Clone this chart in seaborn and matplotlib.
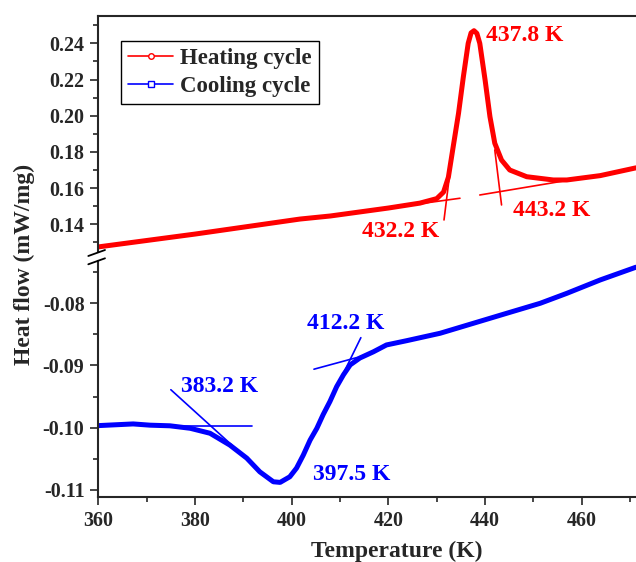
import matplotlib
matplotlib.use("Agg")
import matplotlib.pyplot as plt
from matplotlib.lines import Line2D
import seaborn as sns
import pandas as pd

# DSC heat flow
heat_T = [360, 380, 401.7, 408, 420, 426.5, 430, 431.4, 432.4, 433.4, 434.5, 435.5,
          436.5, 437.1, 437.7, 438.3, 438.9, 440, 441, 442, 443.4, 445.1, 448.6,
          454.1, 456.9, 463.8, 471.2]
heat_Q = [0.1275, 0.1346, 0.1429, 0.1446, 0.1490, 0.1517, 0.1542, 0.1578, 0.1660,
          0.1829, 0.2013, 0.2215, 0.2400, 0.2458, 0.2470, 0.2455, 0.2400, 0.2197,
          0.1995, 0.1848, 0.1755, 0.1700, 0.1663, 0.1645, 0.1645, 0.1669, 0.1712]

cool_T = [360, 367.2, 370.7, 374.8, 379, 383.1, 387.2, 390.7, 393.4, 396.2, 397.6,
          399.6, 401.0, 402.4, 403.8, 405.2, 406.5, 407.9, 409.3, 410.7, 412.1, 414.1,
          416.9, 419.6, 423.8, 430.7, 437.6, 444.5, 451.4, 456.9, 463.8, 471.2]
cool_Q = [-0.09967, -0.0994, -0.0996, -0.0997, -0.1001, -0.1009, -0.1028, -0.1049,
          -0.1071, -0.1087, -0.1088, -0.1079, -0.1065, -0.1044, -0.1020, -0.1001,
          -0.0979, -0.0958, -0.0934, -0.0915, -0.0899, -0.0888, -0.0878, -0.0867,
          -0.08601, -0.08482, -0.08321, -0.0816, -0.0800, -0.0784, -0.07625, -0.0742]

# tangent construction lines (x pairs, y pairs)
heat_tangents = [([425, 434.8], [0.1508, 0.1544]),
                 ([431.5, 432.5], [0.1424, 0.1640]),
                 ([438.9, 457.5], [0.1562, 0.1645]),
                 ([442.0, 443.4], [0.1811, 0.1507])]
cool_tangents = [([375, 391.8], [-0.0997, -0.0997]),
                 ([375.0, 387.9], [-0.0939, -0.1030]),
                 ([404.6, 415.5], [-0.0906, -0.0883]),
                 ([414.3, 410.7], [-0.08553, -0.09125])]

heat_labels = [("437.8 K", 440.1, 0.2443, "left"),
               ("432.2 K", 430.5, 0.1359, "right"),
               ("443.2 K", 445.7, 0.1475, "left")]
cool_labels = [("383.2 K", 377.2, -0.0934, "left"),
               ("412.2 K", 403.1, -0.0832, "left"),
               ("397.5 K", 404.5, -0.10746, "left")]

heat = pd.DataFrame({"T": heat_T, "Q": heat_Q})
cool = pd.DataFrame({"T": cool_T, "Q": cool_Q})

sns.set_style("ticks")
plt.rcParams["font.family"] = ["Liberation Serif", "DejaVu Serif"]
plt.rcParams["font.weight"] = "bold"

fig = plt.figure(figsize=(6.36, 5.62), dpi=100)
ax_top = fig.add_axes([0.1546, 0.5534, 0.8454, 0.4187])
ax_bot = fig.add_axes([0.1546, 0.1162, 0.8454, 0.4194])

sns.lineplot(data=heat, x="T", y="Q", ax=ax_top, color="#ff0000", lw=3.6, sort=False)
sns.lineplot(data=cool, x="T", y="Q", ax=ax_bot, color="#0000ff", lw=3.6, sort=False)

for xs, ys in heat_tangents:
    ax_top.plot(xs, ys, color="#ff0000", lw=1.2)
for xs, ys in cool_tangents:
    ax_bot.plot(xs, ys, color="#0000ff", lw=1.2)

for txt, x, y, ha in heat_labels:
    ax_top.text(x, y, txt, color="#ff0000", fontsize=17, fontweight="bold", ha=ha, va="center")
for txt, x, y, ha in cool_labels:
    ax_bot.text(x, y, txt, color="#0000ff", fontsize=17, fontweight="bold", ha=ha, va="center")

xmax = 360 + 537.7 / 4.835
for ax in (ax_top, ax_bot):
    ax.set_xlim(360, xmax)
    ax.set_xlabel("")
    ax.set_ylabel("")
    ax.spines["right"].set_visible(False)
    for s in ax.spines.values():
        s.set_linewidth(1.5)
    ax.tick_params(which="major", direction="out", length=6, width=1.2, labelsize=14.4, pad=4)
    ax.tick_params(which="minor", direction="out", length=3.5, width=1.2)

ax_top.set_ylim(0.12525, 0.2553)
ax_top.set_yticks([0.14, 0.16, 0.18, 0.20, 0.22, 0.24])
ax_top.set_yticks([0.13, 0.15, 0.17, 0.19, 0.21, 0.23, 0.25], minor=True)
ax_top.spines["bottom"].set_visible(False)
ax_top.tick_params(axis="x", which="both", bottom=False, labelbottom=False)

ax_bot.set_ylim(-0.1111, -0.0732)
ax_bot.set_yticks([-0.11, -0.10, -0.09, -0.08])
ax_bot.set_yticklabels(["-0.11", "-0.10", "-0.09", "-0.08"])
ax_bot.set_yticks([-0.105, -0.095, -0.085, -0.075], minor=True)
ax_bot.spines["top"].set_visible(False)
ax_bot.set_xticks([360, 380, 400, 420, 440, 460])
ax_bot.set_xticks([370, 390, 410, 430, 450, 470], minor=True)
for lab in ax_bot.get_yticklabels() + ax_bot.get_xticklabels() + ax_top.get_yticklabels():
    lab.set_fontweight("bold")

# axis break marks
for y0 in (256, 264.3):
    fig.add_artist(Line2D([88.3 / 636, 105 / 636], [1 - y0 / 562, 1 - (y0 - 6) / 562],
                          color="black", lw=1.3))

fig.text(24 / 636, 1 - 264 / 562, "Heat flow (mW/mg)", rotation=90, fontsize=17,
         fontweight="bold", ha="center", va="center")
fig.text(396.5 / 636, 1 - 557 / 562, "Temperature (K)", fontsize=17,
         fontweight="bold", ha="center", va="baseline")

handles = [Line2D([], [], color="#ff0000", lw=1.2, marker="o", ms=4, mfc="white", mew=1),
           Line2D([], [], color="#0000ff", lw=1.2, marker="s", ms=4, mfc="white", mew=1)]
leg = ax_top.legend(handles, ["Heating cycle", "Cooling cycle"], loc="upper left",
                    bbox_to_anchor=(0.0417, 0.892), borderaxespad=0, fancybox=False,
                    framealpha=1, edgecolor="black", prop={"size": 16.5, "weight": "bold"},
                    handlelength=2.0, handletextpad=0.3, borderpad=0.3, labelspacing=0.3)
leg.get_frame().set_linewidth(1.0)

fig.savefig("out.png", dpi=100)
